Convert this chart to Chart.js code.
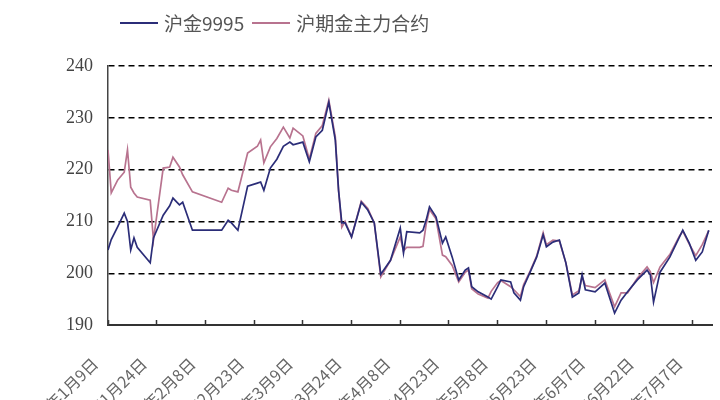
<!DOCTYPE html>
<html>
<head>
<meta charset="utf-8">
<script src="https://cdn.jsdelivr.net/npm/chart.js@4/dist/chart.umd.min.js"></script>
<style>
  body { margin: 0; background: #fff; }
  #wrap { position: relative; width: 720px; height: 400px; overflow: hidden; }
  #legend { position: absolute; top: 9px; left: 120px; display: flex; align-items: center;
            font-family: "Noto Sans CJK SC", sans-serif; font-size: 19px; color: #555; }
  #legend span.sw { display: inline-block; width: 38px; height: 0; border-top: 2px solid; margin-right: 6px; }
  #legend span.item { display: flex; align-items: center; margin-right: 8px; }
</style>
</head>
<body>
<div id="wrap">
  <canvas id="goldChart" width="720" height="400"></canvas>
  <div id="legend"></div>
</div>
<script>
// days counted from 2008-01-09
var dayIndex = [0,1,3,5,6,7,8,9,13,14,17,19,20,22,23,26,35,37,38,40,43,46,47,48,50,52,54,56,57,60,
  62,64,66,68,70,71,72,73,75,78,80,82,84,87,90,91,92,96,97,98,99,101,103,104,106,108,110,111,112,114,
  117,118,120,121,124,125,127,128,130,132,134,135,137,139,141,143,145,146,147,150,153,156,158,160,163,166,
  167,168,170,173,176,177,179,181,183,185];

var spotGold = [204.5,206.5,209,211.6,210,204.5,206.8,205,202,206.8,211.2,213,214.5,213.2,213.7,208.3,208.3,210.2,209.7,208.3,
  216.8,217.4,217.6,216,220.3,222,224.5,225.3,224.8,225.3,221.5,226.3,227.6,233,225.7,216,209.7,209.7,207,213.7,
  212.2,209.7,199.8,202.5,208.7,203.9,208,207.8,208.3,210.3,212.8,210.9,205.8,207,203.1,198.7,200.6,201,197.4,196.4,
  195.4,195,197.4,198.7,198.3,196.2,194.8,197.4,200.2,203.1,207.4,205.1,206,206.4,202,195.4,196.2,199.7,196.8,196.4,
  198.1,192.3,194.8,196.4,198.7,200.6,199.7,194.4,200.2,203.1,207,208.3,205.8,202.5,204.1,208.3];

var futuresGold = [223.8,215.5,218,219.5,223.8,216.6,215.5,214.7,214.1,206.4,220.3,220.5,222.4,220.5,219,215.7,213.7,216.4,216,215.7,
  223.2,224.5,225.7,221.3,224.4,226,228.2,226.1,228,226.5,222,227,228.5,233.4,226.3,216,208.9,210,207,213.9,
  212.5,209.7,199.3,202.5,207,204.3,205,205,205.2,209.5,212.3,210.5,203.5,203.2,201.5,198.3,200.2,200.6,197,196,
  195.2,196.5,198.2,198.6,197.4,196.8,195.5,197.8,200.4,203.3,207.8,205.5,206.4,206.2,202,195.8,196.6,199.3,197.6,197.2,
  198.7,193.5,196.2,196.2,199,201.2,200.3,198.2,201.2,203.6,207.2,208.1,205.6,203.4,205.5,208.2];

var seriesNames = ["沪金9995", "沪期金主力合约"];
var dateLabels = ["2008年1月9日","2008年1月24日","2008年2月8日","2008年2月23日","2008年3月9日","2008年3月24日",
  "2008年4月8日","2008年4月23日","2008年5月8日","2008年5月23日","2008年6月7日","2008年6月22日","2008年7月7日"];

function toPoints(values) {
  return values.map(function (v, i) { return { x: dayIndex[i], y: v }; });
}

var colors = ["#2b2d78", "#b8738f"];

var ctx = document.getElementById("goldChart").getContext("2d");
var chart = new Chart(ctx, {
  type: "line",
  data: {
    datasets: [
      { label: seriesNames[0], data: toPoints(spotGold), borderColor: colors[0], borderWidth: 1.7, pointRadius: 0, tension: 0 },
      { label: seriesNames[1], data: toPoints(futuresGold), borderColor: colors[1], borderWidth: 1.7, pointRadius: 0, tension: 0 }
    ]
  },
  options: {
    responsive: false,
    animation: false,
    layout: { padding: { top: 66, right: 8, left: 0, bottom: 0 } },
    plugins: { legend: { display: false }, tooltip: { enabled: false } },
    scales: {
      x: {
        type: "linear",
        min: 0,
        max: 186,
        grid: { display: true, drawOnChartArea: false, drawTicks: true, tickLength: -5, tickColor: "#333", tickWidth: 1.5 },
        border: { display: true, color: "#333", width: 2 },
        ticks: {
          stepSize: 15,
          includeBounds: false,
          autoSkip: false,
          minRotation: 45,
          maxRotation: 45,
          padding: 34,
          labelOffset: -13,
          color: "#666",
          font: { family: "'Noto Sans CJK SC', sans-serif", size: 16 },
          callback: function (value) { return dateLabels[Math.round(value / 15)]; }
        },
        afterFit: function (scale) {
          scale.height = 75;
          scale.paddingLeft = 0;
          scale.paddingRight = 0;
        }
      },
      y: {
        min: 190,
        max: 240,
        grid: {
          drawTicks: false,
          lineWidth: 1.4,
          color: function (c) { return c.tick && c.tick.value === 190 ? "rgba(0,0,0,0)" : "#000"; }
        },
        border: { display: true, color: "#444", width: 1.5, dash: [6, 4] },
        ticks: {
          stepSize: 10,
          padding: 15,
          color: "#444",
          font: { family: "'Liberation Serif', serif", size: 18 }
        },
        afterFit: function (scale) { scale.width = 108; }
      }
    }
  }
});

var legend = document.getElementById("legend");
chart.data.datasets.forEach(function (ds) {
  var item = document.createElement("span");
  item.className = "item";
  var sw = document.createElement("span");
  sw.className = "sw";
  sw.style.borderTopColor = ds.borderColor;
  item.appendChild(sw);
  item.appendChild(document.createTextNode(ds.label));
  legend.appendChild(item);
});
</script>
</body>
</html>
